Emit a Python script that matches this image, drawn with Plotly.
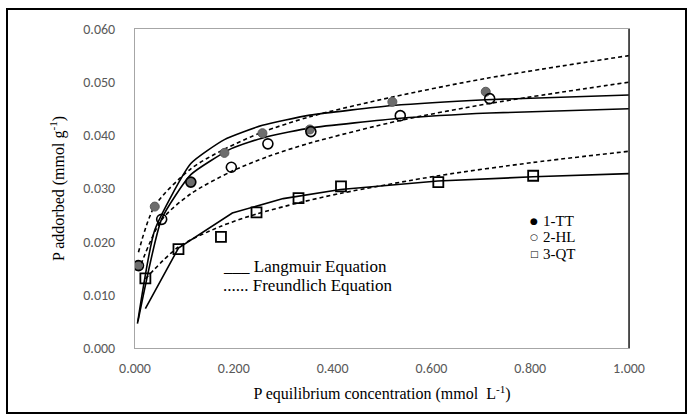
import plotly.graph_objects as go

# Measured adsorption data: P equilibrium concentration (mmol/L) vs P adsorbed (mmol/g)
tt_c = [0.005, 0.040, 0.113, 0.181, 0.258, 0.354, 0.521, 0.710]
tt_q = [0.0155, 0.0266, 0.0312, 0.0367, 0.0404, 0.0411, 0.0463, 0.0482]

hl_c = [0.007, 0.054, 0.113, 0.195, 0.269, 0.356, 0.537, 0.718]
hl_q = [0.0155, 0.0242, 0.0312, 0.0340, 0.0384, 0.0407, 0.0437, 0.0469]

qt_c = [0.021, 0.088, 0.174, 0.246, 0.331, 0.417, 0.614, 0.806]
qt_q = [0.0131, 0.0186, 0.0209, 0.0255, 0.0282, 0.0304, 0.0312, 0.0324]

# Langmuir model curves
lang_tt_c = [0.005, 0.040, 0.113, 0.181, 0.258, 0.354, 0.521, 0.710, 1.000]
lang_tt_q = [0.0046, 0.0222, 0.0347, 0.0392, 0.0419, 0.0438, 0.0456, 0.0467, 0.0476]

lang_hl_c = [0.006, 0.054, 0.113, 0.195, 0.269, 0.356, 0.537, 0.718, 1.000]
lang_hl_q = [0.0050, 0.0243, 0.0326, 0.0375, 0.0398, 0.0414, 0.0432, 0.0442, 0.0450]

lang_qt_c = [0.021, 0.088, 0.197, 0.300, 0.416, 0.613, 0.806, 1.000]
lang_qt_q = [0.0074, 0.0188, 0.0254, 0.0281, 0.0298, 0.0314, 0.0322, 0.0328]

# Freundlich model curves
fr_tt_c = [0.007, 0.040, 0.113, 0.181, 0.258, 0.354, 0.521, 0.710, 1.000]
fr_tt_q = [0.0180, 0.0267, 0.0337, 0.0374, 0.0406, 0.0435, 0.0472, 0.0507, 0.0550]

fr_hl_c = [0.007, 0.054, 0.113, 0.195, 0.269, 0.356, 0.537, 0.718, 1.000]
fr_hl_q = [0.0145, 0.0241, 0.0290, 0.0332, 0.0360, 0.0386, 0.0428, 0.0460, 0.0500]

fr_qt_c = [0.021, 0.088, 0.174, 0.246, 0.331, 0.417, 0.614, 0.806, 1.000]
fr_qt_q = [0.0130, 0.0190, 0.0229, 0.0252, 0.0273, 0.0291, 0.0324, 0.0349, 0.0370]

x_ticks = [0.0, 0.2, 0.4, 0.6, 0.8, 1.0]
y_ticks = [0.0, 0.01, 0.02, 0.03, 0.04, 0.05, 0.06]

fig = go.Figure()

smooth_solid = dict(color="black", width=1.6, shape="spline", smoothing=0.5)
solid = dict(color="black", width=1.6)
dashed = dict(color="black", width=1.6, dash="4px,3px", shape="spline", smoothing=0.8)

fig.add_trace(go.Scatter(x=lang_tt_c, y=lang_tt_q, mode="lines", line=smooth_solid,
                         showlegend=False, hoverinfo="skip"))
fig.add_trace(go.Scatter(x=lang_hl_c, y=lang_hl_q, mode="lines", line=smooth_solid,
                         showlegend=False, hoverinfo="skip"))
fig.add_trace(go.Scatter(x=lang_qt_c, y=lang_qt_q, mode="lines", line=solid,
                         showlegend=False, hoverinfo="skip"))
for c, q in [(fr_tt_c, fr_tt_q), (fr_hl_c, fr_hl_q), (fr_qt_c, fr_qt_q)]:
    fig.add_trace(go.Scatter(x=c, y=q, mode="lines", line=dashed, showlegend=False, hoverinfo="skip"))

fig.add_trace(go.Scatter(x=tt_c, y=tt_q, mode="markers", name="1-TT", showlegend=False,
                         marker=dict(symbol="circle", size=9, color="#6d6d6d",
                                     line=dict(color="#5a5a5a", width=1))))
fig.add_trace(go.Scatter(x=hl_c, y=hl_q, mode="markers", name="2-HL", showlegend=False,
                         marker=dict(symbol="circle-open", size=10, color="black",
                                     line=dict(color="black", width=1.6))))
fig.add_trace(go.Scatter(x=qt_c, y=qt_q, mode="markers", name="3-QT", showlegend=False,
                         marker=dict(symbol="square-open", size=10, color="black",
                                     line=dict(color="black", width=1.8))))

serif = "Times New Roman, Liberation Serif, DejaVu Serif, serif"
tick_font = dict(family="Carlito, Lato, sans-serif", size=14, color="#595959")

fig.update_layout(
    width=693, height=419,
    margin=dict(l=135, r=64, t=29, b=71),
    paper_bgcolor="white", plot_bgcolor="white",
    font=dict(family=serif, color="black"),
    xaxis=dict(range=[0, 1], tickvals=x_ticks, tickformat=".3f", showgrid=False, zeroline=False,
               showline=True, linecolor="#a6a6a6", linewidth=1, mirror=True,
               ticks="", tickfont=tick_font, ticklabelstandoff=7,
               title=dict(text="P equilibrium concentration (mmol  L<sup>-1</sup>)",
                          font=dict(family=serif, size=16, color="black"), standoff=12)),
    yaxis=dict(range=[0, 0.06], tickvals=y_ticks, tickformat=".3f", showgrid=False, zeroline=False,
               showline=True, linecolor="#a6a6a6", linewidth=1, mirror=True,
               ticks="", tickfont=tick_font, ticklabelstandoff=16,
               title=dict(text="P addorbed (mmol g<sup>-1</sup>)",
                          font=dict(family=serif, size=16, color="black"), standoff=14)),
)

# darker right edge of the plotting area
fig.add_shape(type="line", xref="paper", yref="paper", x0=1, x1=1, y0=0, y1=1,
              line=dict(color="#262626", width=1.5))

# outer chart frame (pixel positions converted to paper fractions)
pw, ph = 693 - 135 - 64, 419 - 29 - 71
fig.add_shape(type="rect", xref="paper", yref="paper",
              x0=(7 - 135) / pw, x1=(686 - 135) / pw,
              y0=(419 - 71 - 413) / ph, y1=(419 - 71 - 9) / ph,
              line=dict(color="black", width=2))

# model key
for text, yp in [("___ Langmuir Equation", 266), ("...... Freundlich Equation", 285.5)]:
    fig.add_annotation(x=(221 - 135) / pw, y=(348 - yp) / ph, xref="paper", yref="paper",
                       xanchor="left", yanchor="middle", showarrow=False, text=text,
                       font=dict(family=serif, size=17, color="black"))

# sample key: small symbol followed by the sample name
for sym, text, yp in [("●", "1-TT", 220.5), ("○", "2-HL", 237), ("□", "3-QT", 253.5)]:
    fig.add_annotation(x=(534 - 135) / pw, y=(348 - yp) / ph, xref="paper", yref="paper",
                       xanchor="center", yanchor="middle", showarrow=False, text=sym,
                       font=dict(family="DejaVu Sans", size=9, color="black"))
    fig.add_annotation(x=(541 - 135) / pw, y=(348 - yp) / ph, xref="paper", yref="paper",
                       xanchor="left", yanchor="middle", showarrow=False, text=text,
                       font=dict(family=serif, size=15, color="black"))

fig.write_html("out.html")
